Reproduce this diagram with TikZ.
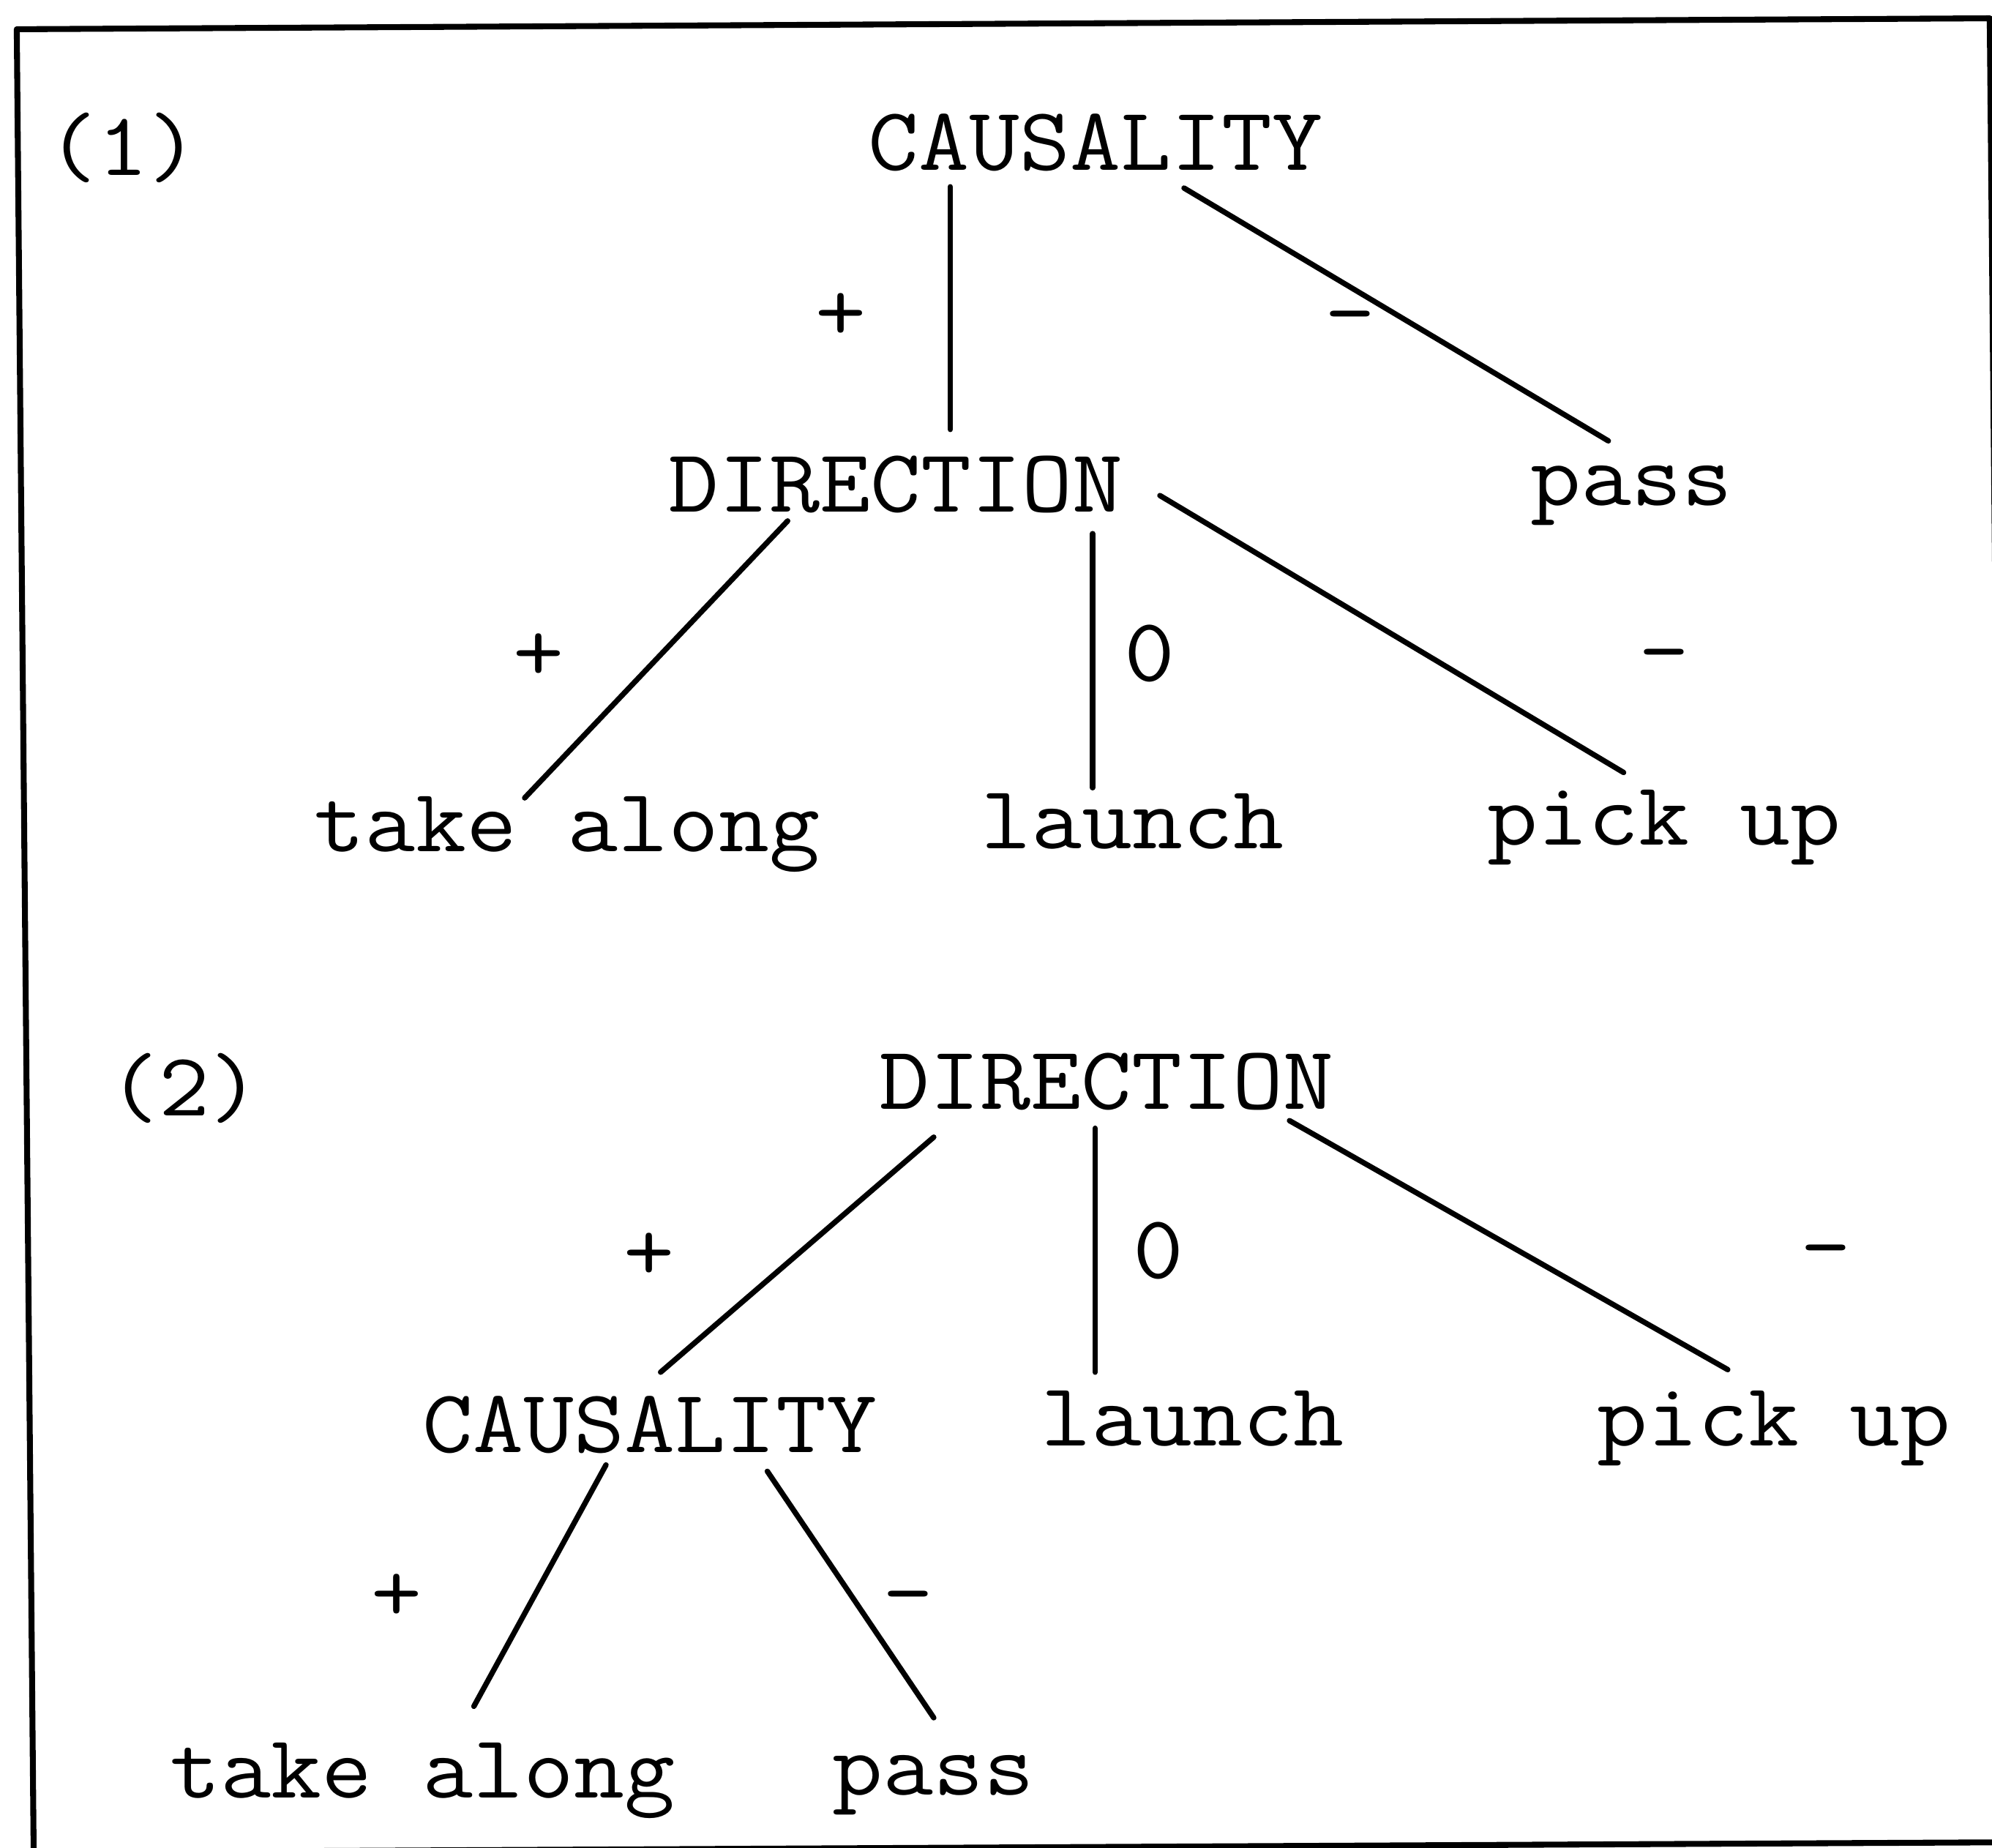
\documentclass[tikz,border=0pt]{standalone}
\usepackage{fontspec}
\usepackage{graphicx}
\usetikzlibrary{calc}
\newcommand{\tyfont}{\ttfamily\fontsize{35}{38}\selectfont}
\newcommand{\tw}[1]{\scalebox{1.09}[1]{#1}}
\begin{document}
\begin{tikzpicture}[x=0.01736cm,y=-0.01736cm,
  word/.style={inner sep=0pt,anchor=base,font=\tyfont},
  sign/.style={inner sep=0pt,anchor=base,font=\tyfont},
  edge/.style={line width=2.1pt,line cap=round}]
\useasboundingbox (0,0) rectangle (1568,1454);
\begin{scope}
\clip (0,0) rectangle (1568,1454);
\draw[line width=2.3pt,line join=round] (13.2,23) -- (1566.2,14.4) -- (1580,1450) -- (26.5,1458) -- cycle;
\end{scope}
% tree 1
\node[word] (lab1) at (97,138) {\tw{(1)}};
\node[word] (cau1) at (862.5,134) {\tw{CAUSALITY}};
\node[word] (dir1) at (705,403) {\tw{DIRECTION}};
\node[word] (pass1) at (1284.5,398) {\tw{pass}};
\node[word] (take1) at (446.5,670) {\tw{take along}};
\node[word] (laun1) at (891.5,668) {\tw{launch}};
\node[word] (pick1) at (1310,665) {\tw{pick up}};
\draw[edge] ($(cau1.base)+(-114.5,13)$) -- ($(dir1.base)+(43,-65)$);
\draw[edge] ($(cau1.base)+(69.5,14)$) -- ($(pass1.base)+(-18.5,-51)$);
\draw[edge] ($(dir1.base)+(-85,7)$) -- ($(take1.base)+(-33.5,-42)$);
\draw[edge] ($(dir1.base)+(155,17)$) -- ($(laun1.base)+(-31.5,-48)$);
\draw[edge] ($(dir1.base)+(208,-13)$) -- ($(pick1.base)+(-32,-57)$);
\node[sign] (s1) at (662,268) {\tw{+}};
\node[sign] (s2) at (1063,269) {\tw{-}};
\node[sign] (s3) at (424,536) {\tw{+}};
\node[sign] (s4) at (905,536) {\tw{0}};
\node[sign] (s5) at (1310,535) {\tw{-}};
% tree 2
\node[word] (lab2) at (145,878) {\tw{(2)}};
\node[word] (dir2) at (871,873) {\tw{DIRECTION}};
\node[word] (cau2) at (511.5,1143) {\tw{CAUSALITY}};
\node[word] (laun2) at (938.5,1138) {\tw{launch}};
\node[word] (pick2) at (1396.5,1138) {\tw{pick up}};
\node[word] (take2) at (332.5,1415) {\tw{take along}};
\node[word] (pass2) at (734.5,1413) {\tw{pass}};
\draw[edge] ($(dir2.base)+(-136,22)$) -- ($(cau2.base)+(8.5,-63)$);
\draw[edge] ($(dir2.base)+(-9,15)$) -- ($(laun2.base)+(-76.5,-58)$);
\draw[edge] ($(dir2.base)+(144,9)$) -- ($(pick2.base)+(-36.5,-60)$);
\draw[edge] ($(cau2.base)+(-34.5,10)$) -- ($(take2.base)+(40.5,-72)$);
\draw[edge] ($(cau2.base)+(92.5,15)$) -- ($(pass2.base)+(0.5,-61)$);
\node[sign] (t1) at (511,1008) {\tw{+}};
\node[sign] (t2) at (912,1006) {\tw{0}};
\node[sign] (t3) at (1437,1004) {\tw{-}};
\node[sign] (t4) at (312,1276) {\tw{+}};
\node[sign] (t5) at (715,1276) {\tw{-}};
\end{tikzpicture}
\end{document}
